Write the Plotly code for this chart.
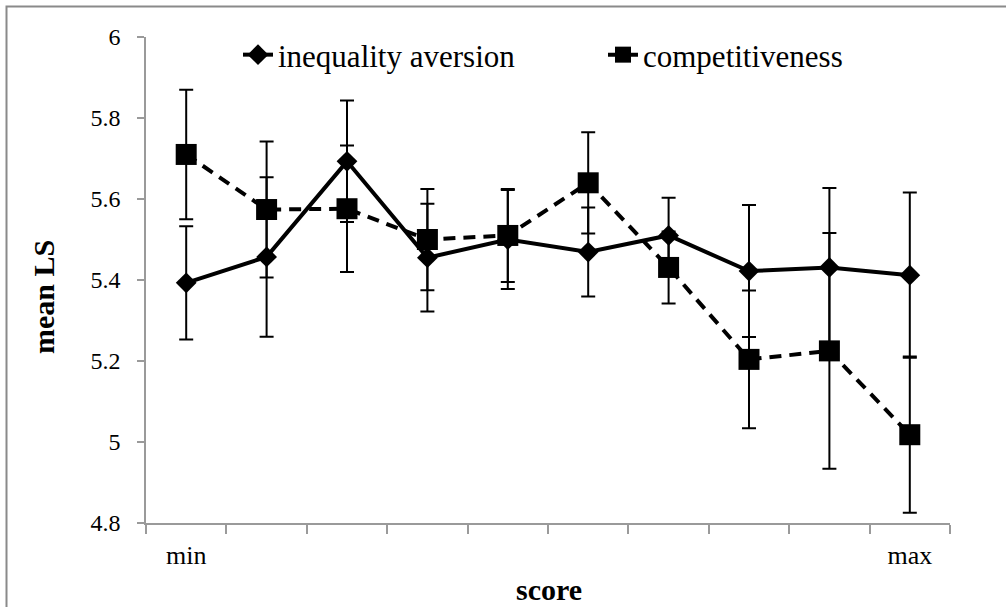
import plotly.graph_objects as go

score_levels = ["min", "2", "3", "4", "5", "6", "7", "8", "9", "max"]
tick_text = ["min", "", "", "", "", "", "", "", "", "max"]

ineq_mean = [5.393, 5.457, 5.693, 5.455, 5.500, 5.469, 5.510, 5.422, 5.431, 5.412]
ineq_err = [0.140, 0.197, 0.150, 0.133, 0.122, 0.110, 0.093, 0.163, 0.196, 0.204]

comp_mean = [5.710, 5.574, 5.576, 5.500, 5.510, 5.640, 5.431, 5.204, 5.225, 5.018]
comp_err = [0.160, 0.168, 0.156, 0.125, 0.115, 0.125, 0.089, 0.170, 0.291, 0.193]

y_ticks = [4.8, 5.0, 5.2, 5.4, 5.6, 5.8, 6.0]
y_tick_text = ["4.8", "5", "5.2", "5.4", "5.6", "5.8", "6"]

FONT = "Liberation Serif"

fig = go.Figure()
fig.add_trace(go.Scatter(
    x=score_levels, y=ineq_mean, name="inequality aversion",
    mode="lines+markers",
    line=dict(color="black", width=4),
    marker=dict(symbol="diamond", size=16, color="black"),
    error_y=dict(type="data", array=ineq_err, visible=True, color="black", thickness=2, width=7),
))
fig.add_trace(go.Scatter(
    x=score_levels, y=comp_mean, name="competitiveness",
    mode="lines+markers",
    line=dict(color="black", width=4, dash="12px,8px"),
    marker=dict(symbol="square", size=21, color="black"),
    error_y=dict(type="data", array=comp_err, visible=True, color="black", thickness=2, width=7),
))

L, R, T, B = 146, 56, 37, 84
W, H = 1006, 607
pw, ph = W - L - R, H - T - B

def px_x(p):
    return (p - L) / pw

def px_y(p):
    return (H - B - p) / ph

fig.update_layout(
    width=W, height=H,
    margin=dict(l=L, r=R, t=T, b=B),
    paper_bgcolor="white", plot_bgcolor="white",
    font=dict(family=FONT, color="black", size=22),
    showlegend=True,
    legend=dict(
        orientation="h", x=px_x(238), xanchor="left", y=px_y(55), yanchor="middle",
        font=dict(family=FONT, size=31, color="black"),
        bgcolor="rgba(0,0,0,0)", entrywidthmode="pixels", entrywidth=320,
        traceorder="normal",
    ),
    xaxis=dict(
        type="category", categoryorder="array", categoryarray=score_levels,
        tickmode="array", tickvals=score_levels, ticktext=tick_text,
        tickson="boundaries", ticks="outside", ticklen=9, tickwidth=1.5, tickcolor="#9a9a9a",
        showline=True, linecolor="#9a9a9a", linewidth=1.5, showgrid=False, zeroline=False,
        tickfont=dict(family=FONT, size=26, color="black"), ticklabelstandoff=8,
        range=[-0.5, 9.5],
    ),
    yaxis=dict(
        range=[4.8, 6.0], tickmode="array", tickvals=y_ticks, ticktext=y_tick_text,
        ticks="outside", ticklen=7, tickwidth=1.5, tickcolor="#9a9a9a",
        showline=True, linecolor="#9a9a9a", linewidth=1.5, showgrid=False, zeroline=False,
        tickfont=dict(family=FONT, size=24, color="black"), ticklabelstandoff=12,
    ),
    annotations=[
        dict(text="<b>mean LS</b>", x=px_x(43), y=px_y(297), xref="paper", yref="paper",
             textangle=-90, showarrow=False, font=dict(family=FONT, size=30, color="black"),
             xanchor="center", yanchor="middle"),
        dict(text="<b>score</b>", x=px_x(549), y=px_y(589), xref="paper", yref="paper",
             showarrow=False, font=dict(family=FONT, size=30, color="black"),
             xanchor="center", yanchor="middle"),
    ],
    shapes=[
        dict(type="rect", xref="paper", yref="paper",
             x0=px_x(6.5), x1=px_x(1100), y0=px_y(700), y1=px_y(6.5),
             line=dict(color="#8a8a8a", width=2), fillcolor="rgba(0,0,0,0)", layer="below"),
    ],
)

fig.write_html("out.html", config={"displayModeBar": False})

# remove the default page margin so the figure sits at the window's top-left corner
with open("out.html", "r", encoding="utf-8") as f:
    html = f.read()
html = html.replace("<head>", "<head><style>html,body{margin:0;padding:0;overflow:hidden;}</style>", 1)
with open("out.html", "w", encoding="utf-8") as f:
    f.write(html)
